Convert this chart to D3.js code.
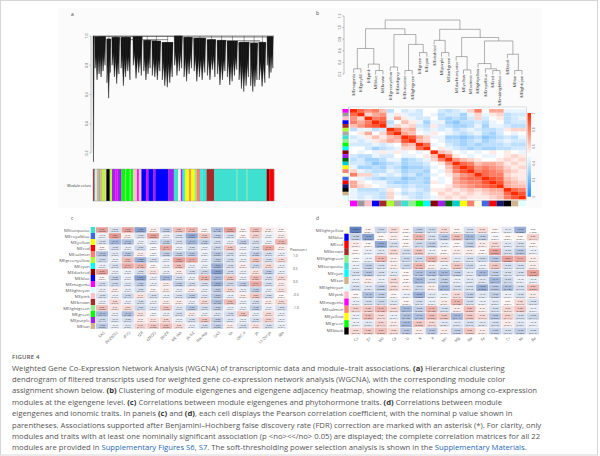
<!DOCTYPE html>
<html>
<head>
<meta charset="utf-8">
<script src="https://cdnjs.cloudflare.com/ajax/libs/d3/7.8.5/d3.min.js"></script>
<style>
  body { margin: 0; background: #fff; }
  svg { display: block; font-family: 'Open Sans', 'Noto Sans', sans-serif; }
</style>
</head>
<body>
<div id="fig"></div>
<script>
// ---------- data ----------
var rColors = {
  turquoise: '#40E0D0', blue: '#0000FF', brown: '#A52A2A', yellow: '#FFFF00', green: '#00FF00',
  red: '#FF0000', black: '#000000', pink: '#FFC0CB', magenta: '#FF00FF', purple: '#A020F0',
  greenyellow: '#ADFF2F', tan: '#D2B48C', salmon: '#FA8072', cyan: '#00FFFF', midnightblue: '#191970',
  lightcyan: '#E0FFFF', grey60: '#999999', lightgreen: '#90EE90', lightyellow: '#FFFFE0',
  royalblue: '#4169E1', darkred: '#8B0000', darkgreen: '#006400', darkturquoise: '#00CED1',
  darkgrey: '#A9A9A9'
}

// (a) gene dendrogram: [first leaf, last leaf, top height, strand tip heights]
var aTicks = [1.0, 0.8, 0.6, 0.4, 0.2]
var aClusters = [
  [0, 4, 1.0, [0.14]],
  [4, 40, 0.995, [0.78, 0.70, 0.74, 0.72, 0.76, 0.80]],
  [40, 55, 0.98, [0.68, 0.575, 0.75]],
  [55, 82, 0.99, [0.80, 0.72, 0.675, 0.74]],
  [82, 115, 0.99, [0.78, 0.66, 0.72, 0.76, 0.70]],
  [118, 150, 0.995, [0.80, 0.71, 0.75, 0.73]],
  [150, 175, 0.97, [0.76, 0.70, 0.74, 0.78]],
  [175, 205, 0.965, [0.73, 0.72, 0.70, 0.76]],
  [205, 242, 0.955, [0.70, 0.66, 0.65, 0.68, 0.72]],
  [242, 270, 1.0, [0.80, 0.73, 0.76, 0.78]],
  [270, 300, 0.99, [0.72, 0.69, 0.74, 0.78]],
  [300, 340, 0.985, [0.76, 0.69, 0.72, 0.70, 0.75]],
  [340, 370, 0.975, [0.73, 0.70, 0.77, 0.72]],
  [370, 400, 0.97, [0.74, 0.665, 0.70, 0.76]],
  [400, 435, 0.965, [0.72, 0.665, 0.69, 0.73, 0.77]],
  [435, 470, 0.955, [0.70, 0.64, 0.62, 0.66, 0.72]],
  [470, 495, 0.95, [0.66, 0.62, 0.655, 0.70]],
  [495, 520, 0.955, [0.70, 0.655, 0.68]],
  [520, 542, 0.995, [0.80, 0.71, 0.75, 0.78]]
]
var aMerges = [[0, 542, 1.0], [20, 260, 0.997], [270, 531, 0.993], [100, 225, 0.975],
  [380, 500, 0.968], [440, 510, 0.958], [160, 190, 0.97]]
var aModuleColors = ['brown', 'grey60', 'lightcyan', 'tan', 'darkgrey', 'tan', 'greenyellow', 'pink',
  'black', 'greenyellow', 'purple', 'magenta', 'purple', 'green', 'lightgreen', 'green', 'lightgreen',
  'green', 'pink', 'magenta', 'pink', 'blue', 'magenta', 'blue', 'purple', 'blue', 'purple',
  'turquoise', 'lightyellow', 'magenta', 'cyan', 'yellow', 'salmon', 'yellow', 'lightgreen', 'salmon',
  'cyan', 'turquoise', 'brown', 'turquoise', 'lightgreen', 'turquoise', 'lightgreen', 'turquoise',
  'darkred', 'red']
var aModuleWidths = [3, 4, 4, 6, 5, 5, 9, 4, 10, 7, 10, 6, 12, 11, 3, 11, 3, 7, 12, 5, 8, 15, 6, 14,
  8, 37, 17, 13, 8, 5, 7, 13, 5, 11, 6, 12, 6, 12, 23, 67, 2, 28, 2, 58, 8, 14]

// (b) eigengene dendrogram (hclust merge style) and adjacency
var bModules = ['magenta', 'grey60', 'pink', 'blue', 'brown', 'greenyellow', 'darkgrey', 'turquoise',
  'lightgreen', 'green', 'cyan', 'darkred', 'purple', 'darkgreen', 'darkturquoise', 'yellow', 'salmon',
  'lightyellow', 'royalblue', 'red', 'midnightblue', 'black', 'tan', 'lightcyan']
var bMerge = [[-1, -2, 0.29], [-4, -5, 0.26], [-3, 2, 0.37], [1, 3, 0.64], [-6, -7, 0.32],
  [-8, -9, 0.26], [-10, -11, 0.57], [6, 7, 0.71], [5, 8, 0.88], [4, 9, 0.98], [-13, -14, 0.57],
  [-12, 11, 0.78], [-16, -17, 0.27], [-15, 13, 0.50], [-20, -21, 0.26], [-19, 15, 0.29],
  [-18, 16, 0.38], [-23, -24, 0.26], [-22, 18, 0.54], [17, 19, 0.77], [14, 20, 0.83],
  [12, 21, 0.97], [10, 22, 1.13]]
var bTicks = [0.2, 0.4, 0.6, 0.8, 1.0, 1.2]
var bLegendTicks = [0, 0.2, 0.4, 0.6, 0.8, 1]
var bAdj = [
  [1, .85, .75, .8, .65, .35, .5, .4, .45, .4, .5, .5, .4, .35, .4, .45, .6, .8, .5, .7, .7, .45, .45, .45],
  [.85, 1, .6, .7, .75, .45, .55, .45, .4, .4, .5, .45, .35, .4, .4, .3, .45, .6, .45, .55, .6, .35, .4, .4],
  [.75, .6, 1, .8, .85, .45, .7, .55, .45, .4, .4, .5, .35, .3, .35, .3, .4, .6, .4, .5, .55, .35, .4, .45],
  [.8, .7, .8, 1, .9, .35, .5, .65, .55, .45, .3, .45, .45, .3, .25, .35, .35, .4, .35, .45, .5, .35, .4, .4],
  [.65, .75, .85, .9, 1, .4, .6, .55, .6, .4, .35, .55, .4, .35, .3, .3, .35, .45, .3, .45, .45, .4, .35, .35],
  [.35, .45, .45, .35, .4, 1, .85, .65, .7, .45, .4, .45, .4, .45, .35, .4, .45, .4, .35, .35, .4, .55, .6, .6],
  [.5, .55, .7, .5, .6, .85, 1, .7, .65, .5, .45, .55, .5, .45, .4, .35, .4, .45, .35, .3, .4, .5, .45, .5],
  [.4, .45, .55, .65, .55, .65, .7, 1, .9, .7, .6, .45, .45, .3, .3, .25, .3, .35, .25, .3, .35, .4, .35, .45],
  [.45, .4, .45, .55, .6, .7, .65, .9, 1, .65, .6, .5, .45, .35, .35, .3, .35, .4, .3, .35, .4, .45, .4, .4],
  [.4, .4, .4, .45, .4, .45, .5, .7, .65, 1, .85, .45, .5, .4, .35, .3, .35, .3, .35, .35, .35, .4, .35, .35],
  [.5, .5, .4, .3, .35, .4, .45, .6, .6, .85, 1, .5, .55, .45, .4, .35, .3, .35, .3, .3, .35, .35, .4, .4],
  [.5, .45, .5, .45, .55, .45, .55, .45, .5, .45, .5, 1, .65, .6, .5, .45, .5, .45, .5, .55, .5, .55, .5, .45],
  [.4, .35, .35, .45, .4, .4, .5, .45, .45, .5, .55, .65, 1, .8, .55, .5, .45, .5, .45, .45, .5, .55, .6, .55],
  [.35, .4, .3, .3, .35, .45, .45, .3, .35, .4, .45, .6, .8, 1, .75, .65, .6, .55, .5, .5, .55, .6, .55, .6],
  [.4, .4, .35, .25, .3, .35, .4, .3, .35, .35, .4, .5, .55, .75, 1, .85, .8, .65, .7, .7, .65, .55, .6, .55],
  [.45, .3, .3, .35, .3, .4, .35, .25, .3, .3, .35, .45, .5, .65, .85, 1, .9, .75, .8, .75, .7, .6, .55, .6],
  [.6, .45, .4, .35, .35, .45, .4, .3, .35, .35, .3, .5, .45, .6, .8, .9, 1, .8, .85, .8, .75, .65, .6, .55],
  [.8, .6, .6, .4, .45, .4, .45, .35, .4, .3, .35, .45, .5, .55, .65, .75, .8, 1, .85, .8, .8, .6, .55, .55],
  [.5, .45, .4, .35, .3, .35, .35, .25, .3, .35, .3, .5, .45, .5, .7, .8, .85, .85, 1, .9, .85, .65, .6, .55],
  [.7, .55, .5, .45, .45, .35, .3, .3, .35, .35, .3, .55, .45, .5, .7, .75, .8, .8, .9, 1, .9, .7, .65, .6],
  [.7, .6, .55, .5, .45, .4, .4, .35, .4, .35, .35, .5, .5, .55, .65, .7, .75, .8, .85, .9, 1, .7, .65, .65],
  [.45, .35, .35, .35, .4, .55, .5, .4, .45, .4, .35, .55, .55, .6, .55, .6, .65, .6, .65, .7, .7, 1, .85, .8],
  [.45, .4, .4, .4, .35, .6, .45, .35, .4, .35, .4, .5, .6, .55, .6, .55, .6, .55, .6, .65, .65, .85, 1, .9],
  [.45, .4, .45, .4, .35, .6, .5, .45, .4, .35, .4, .45, .55, .6, .55, .6, .55, .55, .55, .6, .65, .8, .9, 1]
]

// (c) module eigengenes vs phytohormone traits (Pearson r)
var cModules = ['turquoise', 'royalblue', 'yellow', 'red', 'salmon', 'greenyellow', 'cyan', 'darkred',
  'blue', 'magenta', 'lightcyan', 'pink', 'brown', 'lightgreen', 'green', 'purple', 'tan']
var cTraits = ['SAG', 'DHZROG', 'iP7G', 'tZR', 'cZROG', 'DHZR', 'ME-IAA', 'JA-ILE', 'IAA-Asp', 'GA3',
  'SA', 'OPC-4', 'JA', '12-OH-JA', 'IBA']
var cR = [
  [0.50, -0.20, 0.50, -0.60, 0.10, -0.30, 0.35, 0.40, 0.05, -0.40, 0.50, 0.05, 0.35, 0.10, 0.05],
  [-0.10, 0.55, 0.10, -0.20, 0.50, -0.10, -0.20, -0.55, 0.30, -0.30, -0.20, 0.05, 0.25, -0.10, 0.10],
  [-0.20, -0.45, -0.40, -0.10, -0.15, -0.30, -0.20, -0.45, -0.30, -0.20, -0.10, -0.30, -0.20, -0.10, 0.40],
  [0.05, -0.20, -0.10, -0.25, -0.05, 0.45, -0.10, -0.20, -0.10, -0.25, 0.30, -0.10, -0.20, 0.45, 0.10],
  [-0.40, -0.15, -0.35, 0.10, -0.05, -0.30, -0.30, -0.35, -0.10, -0.35, -0.20, -0.10, -0.30, -0.20, -0.10],
  [-0.25, -0.10, 0.35, -0.50, -0.20, -0.10, 0.50, 0.45, -0.10, -0.30, -0.20, -0.10, 0.30, -0.20, 0.20],
  [-0.10, -0.20, 0.45, 0.40, 0.05, -0.10, 0.35, -0.10, -0.10, -0.50, -0.20, 0.10, -0.25, 0.20, -0.10],
  [0.50, -0.10, -0.10, -0.20, 0.15, -0.10, 0.10, -0.20, -0.25, -0.60, -0.20, -0.10, 0.15, -0.30, -0.10],
  [0.05, -0.30, -0.10, -0.60, -0.10, -0.45, -0.20, -0.10, 0.40, -0.45, 0.30, -0.10, 0.35, -0.20, 0.20],
  [-0.20, -0.25, -0.15, -0.30, -0.10, 0.10, -0.30, -0.20, -0.20, -0.50, -0.25, -0.30, 0.45, -0.20, 0.10],
  [-0.10, 0.10, -0.10, -0.20, 0.05, 0.10, -0.10, 0.10, -0.10, -0.30, 0.20, -0.10, -0.30, -0.10, 0.15],
  [-0.20, -0.10, -0.25, 0.15, -0.20, -0.10, -0.20, -0.30, -0.15, -0.35, -0.10, 0.10, 0.30, -0.20, 0.05],
  [-0.10, 0.20, -0.10, -0.20, -0.10, 0.10, 0.10, -0.10, 0.20, -0.40, 0.35, -0.10, -0.20, 0.10, 0.20],
  [0.35, 0.15, 0.20, -0.25, -0.15, 0.30, -0.15, -0.35, -0.20, -0.30, -0.10, -0.10, -0.30, -0.10, -0.20],
  [-0.45, -0.10, -0.40, 0.15, -0.05, -0.10, -0.20, 0.10, -0.10, -0.15, -0.20, 0.30, -0.10, 0.20, -0.10],
  [-0.25, -0.15, -0.20, 0.10, 0.15, 0.20, -0.10, -0.20, 0.30, -0.30, -0.15, -0.10, -0.20, 0.25, -0.10],
  [-0.35, -0.10, -0.15, 0.25, 0.30, 0.35, 0.20, -0.10, -0.20, -0.30, 0.10, -0.20, 0.15, -0.20, -0.10]
]
var cLegendTicks = [1.0, 0.5, 0.0, -0.5, -1.0]

// (d) module eigengenes vs ionomic traits (Pearson r)
var dModules = ['lightyellow', 'blue', 'red', 'brown', 'lightgreen', 'turquoise', 'cyan', 'tan',
  'lightcyan', 'pink', 'magenta', 'salmon', 'yellow', 'green', 'black']
var dTraits = ['Cu', 'Zn', 'Mo', 'Ca', 'Li', 'K', 'P', 'Mn', 'Mg', 'Na', 'Fe', 'B', 'Cr', 'Ni', 'Ba']
var dR = [
  [-0.80, 0.05, -0.25, 0.20, 0.05, -0.30, -0.25, 0.20, 0.05, -0.20, 0.20, 0.05, -0.15, -0.50, 0.00],
  [-0.30, -0.60, 0.05, 0.10, 0.05, 0.40, -0.20, -0.35, 0.35, -0.45, -0.30, -0.05, 0.05, 0.05, 0.25],
  [0.10, 0.05, -0.55, -0.20, 0.05, -0.25, -0.30, -0.10, 0.05, -0.30, 0.10, 0.20, -0.15, -0.20, 0.05],
  [0.05, -0.10, -0.15, 0.20, -0.20, 0.30, -0.10, 0.05, 0.10, 0.10, 0.05, 0.50, -0.20, -0.35, -0.10],
  [-0.05, -0.10, 0.40, 0.10, -0.25, -0.25, 0.40, 0.20, -0.15, -0.20, -0.25, -0.35, 0.50, 0.45, 0.10],
  [-0.10, -0.30, -0.20, 0.10, -0.25, 0.40, 0.10, -0.10, 0.30, -0.25, -0.10, 0.30, -0.20, -0.20, 0.10],
  [-0.20, -0.35, -0.20, -0.15, 0.05, -0.40, -0.40, -0.45, -0.30, -0.15, -0.45, -0.30, -0.20, -0.20, 0.50],
  [-0.10, 0.10, -0.10, 0.20, 0.05, -0.45, -0.20, -0.30, -0.10, -0.15, -0.15, -0.45, -0.25, -0.10, -0.10],
  [-0.20, -0.15, -0.30, 0.20, 0.10, -0.25, 0.10, -0.45, -0.20, -0.20, -0.50, -0.35, -0.40, -0.20, 0.35],
  [0.05, -0.40, -0.30, 0.05, -0.10, -0.50, -0.15, -0.10, 0.20, -0.30, -0.15, -0.30, -0.10, -0.20, 0.10],
  [-0.10, -0.20, -0.25, -0.15, 0.05, -0.20, -0.10, 0.10, 0.40, -0.20, -0.10, -0.15, 0.05, 0.20, -0.20],
  [0.25, 0.30, 0.40, 0.20, -0.45, -0.30, 0.40, -0.20, 0.10, 0.35, 0.10, -0.20, 0.20, 0.30, -0.10],
  [-0.10, 0.35, 0.20, -0.10, -0.40, -0.40, 0.35, 0.30, -0.45, 0.30, 0.20, -0.35, 0.25, -0.20, -0.25],
  [-0.10, -0.15, 0.25, 0.10, -0.45, 0.30, 0.20, -0.15, -0.15, -0.20, -0.15, -0.20, 0.10, -0.15, -0.10],
  [0.20, 0.30, 0.35, 0.20, -0.35, 0.10, -0.35, 0.10, -0.30, 0.30, 0.10, -0.30, -0.20, -0.30, -0.20]
]
var sampleSize = 12

var captionTitle = 'FIGURE 4'
var captionLines = [
  'Weighted Gene Co-Expression Network Analysis (WGCNA) of transcriptomic data and module\u2013trait associations. (a) Hierarchical clustering',
  'dendrogram of filtered transcripts used for weighted gene co-expression network analysis (WGCNA), with the corresponding module color',
  'assignment shown below. (b) Clustering of module eigengenes and eigengene adjacency heatmap, showing the relationships among co-expression',
  'modules at the eigengene level. (c) Correlations between module eigengenes and phytohormone traits. (d) Correlations between module',
  'eigengenes and ionomic traits. In panels (c) and (d), each cell displays the Pearson correlation coefficient, with the nominal p value shown in',
  'parentheses. Associations supported after Benjamini\u2013Hochberg false discovery rate (FDR) correction are marked with an asterisk (*). For clarity, only',
  'modules and traits with at least one nominally significant association (p <no><</no> 0.05) are displayed; the complete correlation matrices for all 22',
  'modules are provided in Supplementary Figures S6, S7. The soft-thresholding power selection analysis is shown in the Supplementary Materials.'
]

// ---------- drawing ----------
var svg = d3.select('#fig')
  .append('svg')
  .attr('width', 600)
  .attr('height', 456)

svg.append('rect')
  .attr('x', 0.5).attr('y', 0.5).attr('width', 597).attr('height', 454.5)
  .attr('fill', '#fff').attr('stroke', '#d6d6d6')

svg.append('rect')
  .attr('x', 58).attr('y', 8).attr('width', 484).attr('height', 200)
  .attr('fill', '#fbfbfb')

var labelStyle = sel => sel.attr('font-size', 5).attr('fill', '#444')

// ----- panel a -----
var gA = svg.append('g')
var xA = d3.scaleLinear().domain([0, 542]).range([93, 274])
var yA = d3.scaleLinear().domain([1.0, 0.2]).range([36, 153])

gA.append('text').attr('x', 71).attr('y', 16).text('a').call(labelStyle)

gA.append('line')
  .attr('x1', 91).attr('x2', 91).attr('y1', yA(1.0)).attr('y2', yA(0.2))
  .attr('stroke', '#777').attr('stroke-width', 0.4)
gA.selectAll('.atick').data(aTicks).enter().append('line')
  .attr('x1', 89.5).attr('x2', 91).attr('y1', d => yA(d)).attr('y2', d => yA(d))
  .attr('stroke', '#777').attr('stroke-width', 0.4)
gA.selectAll('.alab').data(aTicks).enter().append('text')
  .attr('transform', d => `translate(88,${yA(d)}) rotate(-90)`)
  .attr('text-anchor', 'middle')
  .attr('font-size', 3.6).attr('fill', '#555')
  .text(d => d.toFixed(1))

// each strand is a narrow wedge; neighbours overlap so the upper part is solid,
// but wedges stay inside their own cluster so gaps show between clusters
var strands = []
aClusters.forEach(c => {
  var w = (c[1] - c[0]) / c[3].length
  var over = c[3].length > 1 ? 0.6 : 0.2
  var lo = c[0] + (c[3].length > 1 ? 1.5 : 0), hi = c[1] - (c[3].length > 1 ? 2.5 : 0)
  c[3].forEach((tip, i) => {
    strands.push({
      xl: Math.max(lo, c[0] + i * w - w * over),
      xr: Math.min(hi, c[0] + (i + 1) * w + w * over),
      xm: c[0] + (i + 0.35) * w, top: c[2], tip: tip
    })
  })
})
gA.selectAll('.strand').data(strands).enter().append('path')
  .attr('d', d => `M${xA(d.xl)},${yA(d.top)}L${xA(d.xr)},${yA(d.top)}L${xA(d.xm)},${yA(d.tip)}Z`)
  .attr('fill', '#111').attr('stroke', '#111').attr('stroke-width', 0.3)
gA.selectAll('.tail').data(strands).enter().append('line')
  .attr('x1', d => xA(d.xm)).attr('x2', d => xA(d.xm))
  .attr('y1', d => yA(d.top)).attr('y2', d => yA(d.tip))
  .attr('stroke', '#333').attr('stroke-width', 0.4)

gA.selectAll('.merge').data(aMerges).enter().append('line')
  .attr('x1', d => xA(d[0])).attr('x2', d => xA(d[1]))
  .attr('y1', d => yA(d[2])).attr('y2', d => yA(d[2]))
  .attr('stroke', '#222').attr('stroke-width', 0.5)
gA.selectAll('.up').data(aClusters).enter().append('line')
  .attr('x1', d => xA((d[0] + d[1]) / 2)).attr('x2', d => xA((d[0] + d[1]) / 2))
  .attr('y1', d => yA(d[2])).attr('y2', yA(1.0))
  .attr('stroke', '#222').attr('stroke-width', 0.4)

var aStarts = [0].concat(Array.from(d3.cumsum(aModuleWidths)))
gA.selectAll('.mod').data(aModuleColors).enter().append('rect')
  .attr('x', (d, i) => xA(aStarts[i]))
  .attr('width', (d, i) => xA(aStarts[i + 1]) - xA(aStarts[i]) + 0.2)
  .attr('y', 169).attr('height', 32)
  .attr('fill', d => rColors[d])
gA.append('rect')
  .attr('x', xA(0)).attr('y', 169).attr('width', xA(542) - xA(0)).attr('height', 32)
  .attr('fill', 'none').attr('stroke', '#888').attr('stroke-width', 0.4)
gA.append('text')
  .attr('x', 91).attr('y', 187).attr('text-anchor', 'end')
  .attr('font-size', 3.6).attr('fill', '#333')
  .text('Module colors')

// ----- panel b -----
var gB = svg.append('g')
var xB = d3.scaleBand().domain(d3.range(bModules.length)).range([350, 525.7])
var yRow = d3.scaleBand().domain(d3.range(bModules.length)).range([109, 199.3])
var yB = d3.scaleLinear().domain([0.2, 1.2]).range([74, 16])
var hang = 0.07

gB.append('text').attr('x', 316).attr('y', 15).text('b').call(labelStyle)

gB.append('line')
  .attr('x1', 344).attr('x2', 344).attr('y1', yB(0.2)).attr('y2', yB(1.2))
  .attr('stroke', '#666').attr('stroke-width', 0.4)
gB.selectAll('.btick').data(bTicks).enter().append('line')
  .attr('x1', 342.5).attr('x2', 344).attr('y1', d => yB(d)).attr('y2', d => yB(d))
  .attr('stroke', '#666').attr('stroke-width', 0.4)
gB.selectAll('.blab').data(bTicks).enter().append('text')
  .attr('transform', d => `translate(341,${yB(d)}) rotate(-90)`)
  .attr('text-anchor', 'middle')
  .attr('font-size', 3.4).attr('fill', '#555')
  .text(d => d.toFixed(1))

// build node positions from the merge table
var nodes = []
var nodeOf = k => k < 0
  ? { x: xB(-k - 1) + xB.bandwidth() / 2, h: null, leaf: -k - 1 }
  : nodes[k - 1]
var segs = []
var leafEnds = []
bMerge.forEach(m => {
  var a = nodeOf(m[0]), b = nodeOf(m[1]), h = m[2]
  ;[a, b].forEach(n => {
    var low = n.h === null ? h - hang : n.h
    if (n.h === null) leafEnds.push({ x: n.x, h: low, leaf: n.leaf })
    segs.push([n.x, low, n.x, h])
  })
  segs.push([a.x, h, b.x, h])
  nodes.push({ x: (a.x + b.x) / 2, h: h })
})
gB.selectAll('.seg').data(segs).enter().append('line')
  .attr('x1', d => d[0]).attr('y1', d => yB(d[1]))
  .attr('x2', d => d[2]).attr('y2', d => yB(d[3]))
  .attr('stroke', '#555').attr('stroke-width', 0.45)
gB.selectAll('.leaf').data(leafEnds).enter().append('text')
  .attr('transform', d => `translate(${d.x},${yB(d.h) + 1}) rotate(-90)`)
  .attr('text-anchor', 'end').attr('dy', '0.35em')
  .attr('font-size', 3.9).attr('fill', '#333')
  .text(d => 'ME' + bModules[d.leaf])

var adjColor = d3.scaleLinear().domain([0, 0.5, 1]).range(['#1e90ff', '#ffffff', '#ff2a00'])
var cells = []
bAdj.forEach((row, i) => row.forEach((v, j) => cells.push({ i: i, j: j, v: v })))
gB.append('rect')
  .attr('x', 348.5).attr('y', 107).attr('width', 178).attr('height', 93.5)
  .attr('fill', '#fff').attr('stroke', '#bbb').attr('stroke-width', 0.5)
gB.selectAll('.adj').data(cells).enter().append('rect')
  .attr('x', d => xB(d.j)).attr('y', d => yRow(d.i))
  .attr('width', xB.bandwidth() + 0.1).attr('height', yRow.bandwidth() + 0.1)
  .attr('fill', d => adjColor(d.v))
gB.selectAll('.lbar').data(bModules).enter().append('rect')
  .attr('x', 342.5).attr('width', 6)
  .attr('y', (d, i) => yRow(i)).attr('height', yRow.bandwidth() + 0.1)
  .attr('fill', d => rColors[d])
gB.selectAll('.bbar').data(bModules).enter().append('rect')
  .attr('y', 200.7).attr('height', 5.6)
  .attr('x', (d, i) => xB(i)).attr('width', xB.bandwidth() + 0.1)
  .attr('fill', d => rColors[d])

var grad = svg.append('defs').append('linearGradient')
  .attr('id', 'adjgrad').attr('x1', 0).attr('x2', 0).attr('y1', 1).attr('y2', 0)
grad.selectAll('stop').data([0, 0.5, 1]).enter().append('stop')
  .attr('offset', d => d).attr('stop-color', d => adjColor(d))
var yLeg = d3.scaleLinear().domain([0, 1]).range([196.7, 113])
gB.append('rect')
  .attr('x', 527.5).attr('y', yLeg(1)).attr('width', 3.5).attr('height', yLeg(0) - yLeg(1))
  .attr('fill', 'url(#adjgrad)')
gB.selectAll('.legt').data(bLegendTicks).enter().append('text')
  .attr('transform', d => `translate(535,${yLeg(d)}) rotate(-90)`)
  .attr('text-anchor', 'middle')
  .attr('font-size', 3.2).attr('fill', '#555')
  .text(d => d)

// ----- panels c and d -----
var corColor = d3.scaleLinear().domain([-1, 0, 1]).range(['#3a62b0', '#ffffff', '#d0453a'])
var normCdf = z => {
  var t = 1 / (1 + 0.2316419 * z)
  var d = 0.3989423 * Math.exp(-z * z / 2)
  return 1 - d * t * (0.3193815 + t * (-0.3565638 + t * (1.781478 + t * (-1.821256 + t * 1.330274))))
}
var pValue = r => {
  var t = Math.abs(r) * Math.sqrt((sampleSize - 2) / (1 - r * r))
  return 2 * (1 - normCdf(t))
}
var fmtR = d3.format('.2f')
var fmtP = d3.format('.3f')

function corPanel(opt) {
  var g = svg.append('g')
  var x = d3.scaleBand().domain(d3.range(opt.traits.length)).range(opt.xr)
  var y = d3.scaleBand().domain(d3.range(opt.modules.length)).range(opt.yr)
  g.append('text').attr('x', opt.lx).attr('y', opt.ly).text(opt.letter).call(labelStyle)

  var data = []
  opt.values.forEach((row, i) => row.forEach((v, j) => data.push({ i: i, j: j, v: v })))
  var cell = g.selectAll('.cell').data(data).enter().append('g')
    .attr('transform', d => `translate(${x(d.j)},${y(d.i)})`)
  cell.append('rect')
    .attr('width', x.bandwidth()).attr('height', y.bandwidth())
    .attr('fill', d => corColor(d.v))
    .attr('stroke', '#fff').attr('stroke-width', 0.4)
  cell.append('text')
    .attr('x', x.bandwidth() / 2).attr('y', y.bandwidth() / 2 - 0.2)
    .attr('text-anchor', 'middle').attr('font-size', opt.fs).attr('fill', '#333')
    .text(d => fmtR(d.v) + (pValue(d.v) < 0.01 ? '*' : ''))
  cell.append('text')
    .attr('x', x.bandwidth() / 2).attr('y', y.bandwidth() / 2 + opt.fs * 1.05)
    .attr('text-anchor', 'middle').attr('font-size', opt.fs).attr('fill', '#333')
    .text(d => '(' + fmtP(pValue(d.v)) + ')')

  g.selectAll('.sw').data(opt.modules).enter().append('rect')
    .attr('x', opt.xr[0] - 5).attr('width', 4.4)
    .attr('y', (d, i) => y(i)).attr('height', y.bandwidth())
    .attr('fill', d => rColors[d])
  g.selectAll('.rl').data(opt.modules).enter().append('text')
    .attr('x', opt.xr[0] - 6).attr('y', (d, i) => y(i) + y.bandwidth() / 2)
    .attr('dy', '0.35em').attr('text-anchor', 'end')
    .attr('font-size', 4.3).attr('fill', '#555')
    .text(d => 'ME' + d)
  g.selectAll('.cl').data(opt.traits).enter().append('text')
    .attr('transform', (d, i) => `translate(${x(i) + x.bandwidth() / 2 + 2},${opt.yr[1] + 3}) rotate(-45)`)
    .attr('text-anchor', 'end').attr('dy', '0.35em')
    .attr('font-size', 3.8).attr('fill', '#555')
    .text(d => d)
}

corPanel({ letter: 'c', lx: 71, ly: 220, modules: cModules, traits: cTraits, values: cR,
  xr: [95.7, 287.7], yr: [227, 329], fs: 2.3 })
corPanel({ letter: 'd', lx: 316, ly: 220, modules: dModules, traits: dTraits, values: dR,
  xr: [349.3, 539.3], yr: [226.5, 334.5], fs: 2.5 })

var yPear = d3.scaleLinear().domain([1, -1]).range([256, 308])
svg.append('text').attr('x', 290).attr('y', 250.5)
  .attr('font-size', 3.8).attr('fill', '#444').text('Pearson r')
svg.selectAll('.pt').data(cLegendTicks).enter().append('text')
  .attr('x', 293).attr('y', d => yPear(d)).attr('dy', '0.35em')
  .attr('font-size', 3.4).attr('fill', '#555')
  .text(d => d.toFixed(1))

// ----- caption -----
svg.append('text')
  .attr('x', 12).attr('y', 358.5)
  .attr('font-size', 6).attr('font-weight', 600).attr('fill', '#555')
  .attr('letter-spacing', 0.2)
  .text(captionTitle)

var capRe = /(\([a-d]\)|Supplementary Figures S6, S7|Supplementary Materials)/
var cap = svg.selectAll('.cap').data(captionLines).enter().append('text')
  .attr('x', 12).attr('y', (d, i) => 370.5 + i * 11.4)
  .attr('font-size', 7.7).attr('fill', '#555')
cap.selectAll('tspan').data(d => d.split(capRe).filter(s => s.length)).enter().append('tspan')
  .attr('font-weight', s => /^\([a-d]\)$/.test(s) ? 700 : null)
  .attr('fill', s => /^Supplementary/.test(s) ? '#2768b3' : (/^\([a-d]\)$/.test(s) ? '#333' : null))
  .text(s => s)
</script>
</body>
</html>
